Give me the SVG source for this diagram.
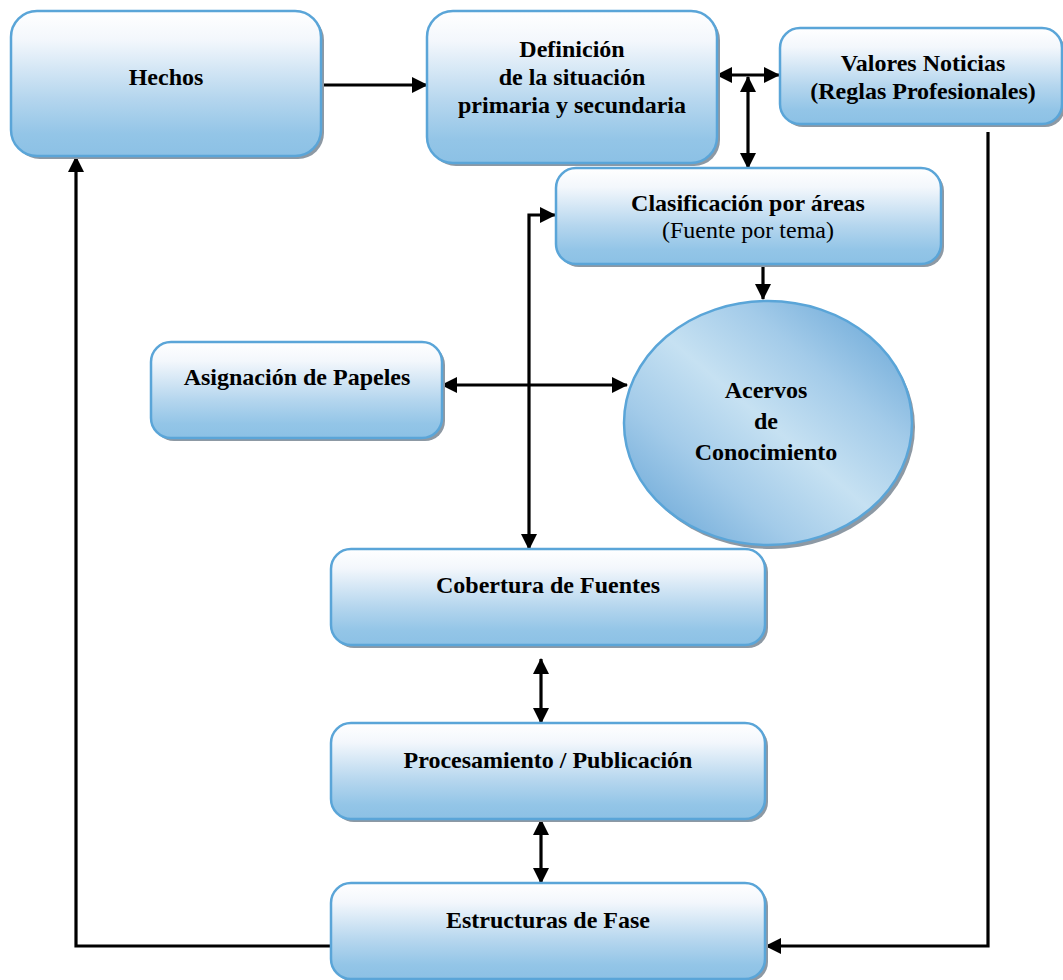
<svg xmlns="http://www.w3.org/2000/svg" width="1063" height="980" viewBox="0 0 1063 980">
  <style>
    .box { fill: url(#boxGrad); stroke: #5aa5d8; stroke-width: 2.5; }
    .shadow { fill: #8d99a4; }
    .t { font-family: "Liberation Serif", "Times New Roman", serif; font-size: 24px; font-weight: bold; fill: #000; text-anchor: middle; }
    .r { font-weight: normal; }
    .conn { fill: none; stroke: #000; stroke-width: 3.2; }
  </style>
  <defs>
    <linearGradient id="boxGrad" x1="0" y1="0" x2="0" y2="1">
      <stop offset="0" stop-color="#ffffff"/>
      <stop offset="0.2" stop-color="#f3f7fc"/>
      <stop offset="0.6" stop-color="#b5d6ee"/>
      <stop offset="0.85" stop-color="#93c5e7"/>
      <stop offset="1" stop-color="#8cc1e5"/>
    </linearGradient>
    <linearGradient id="ellGrad" x1="1" y1="0" x2="0" y2="1">
      <stop offset="0" stop-color="#5d9fd3"/>
      <stop offset="0.3" stop-color="#a3cbe9"/>
      <stop offset="0.5" stop-color="#c6e1f2"/>
      <stop offset="0.7" stop-color="#a3cbe9"/>
      <stop offset="1" stop-color="#5d9fd3"/>
    </linearGradient>
    <marker id="ah" markerUnits="userSpaceOnUse" markerWidth="16" markerHeight="16" refX="15" refY="8" orient="auto-start-reverse" viewBox="0 0 16 16">
      <path d="M0,0 L16,8 L0,16 z" fill="#000"/>
    </marker>
  </defs>

  <g id="connectors">
    <path class="conn" d="M321,85 H427" marker-end="url(#ah)"/>
    <path class="conn" d="M717,75 H779" marker-start="url(#ah)" marker-end="url(#ah)"/>
    <path class="conn" d="M748,77 V168" marker-start="url(#ah)" marker-end="url(#ah)"/>
    <path class="conn" d="M763,265 V299" marker-end="url(#ah)"/>
    <path class="conn" d="M988,132 V946 H766" marker-end="url(#ah)"/>
    <path class="conn" d="M331,946 H76 V157" marker-end="url(#ah)"/>
    <path class="conn" d="M442,385 H627" marker-start="url(#ah)" marker-end="url(#ah)"/>
    <path class="conn" d="M529,549 V215 H555" marker-start="url(#ah)" marker-end="url(#ah)"/>
    <path class="conn" d="M541,659 V723" marker-start="url(#ah)" marker-end="url(#ah)"/>
    <path class="conn" d="M541,820 V883" marker-start="url(#ah)" marker-end="url(#ah)"/>
  </g>

  <g id="hechos">
    <rect class="shadow" x="14" y="14" width="310" height="145" rx="26"/>
    <rect class="box" x="11" y="11" width="310" height="145" rx="26"/>
    <text class="t" x="166" y="85">Hechos</text>
  </g>

  <g id="definicion">
    <rect class="shadow" x="430" y="14" width="290" height="152" rx="26"/>
    <rect class="box" x="427" y="11" width="290" height="152" rx="26"/>
    <text class="t" x="572" y="57">Definición</text>
    <text class="t" x="572" y="85">de la situación</text>
    <text class="t" x="572" y="113">primaria y secundaria</text>
  </g>

  <g id="valores">
    <rect class="shadow" x="783" y="31" width="282" height="96" rx="20"/>
    <rect class="box" x="780" y="28" width="282" height="96" rx="20"/>
    <text class="t" x="923" y="71">Valores Noticias</text>
    <text class="t" x="923" y="99">(Reglas Profesionales)</text>
  </g>

  <g id="clasificacion">
    <rect class="shadow" x="559" y="171" width="385" height="96" rx="20"/>
    <rect class="box" x="556" y="168" width="385" height="96" rx="20"/>
    <text class="t" x="748" y="211">Clasificación por áreas</text>
    <text class="t r" x="748" y="238">(Fuente por tema)</text>
  </g>

  <g id="asignacion">
    <rect class="shadow" x="154" y="345" width="291" height="96" rx="20"/>
    <rect class="box" x="151" y="342" width="291" height="96" rx="20"/>
    <text class="t" x="297" y="385">Asignación de Papeles</text>
  </g>

  <g id="acervos">
    <ellipse cx="771" cy="427" rx="144" ry="122" fill="#8d99a4"/>
    <ellipse cx="768" cy="423" rx="144" ry="122" fill="url(#ellGrad)" stroke="#5aa5d8" stroke-width="2.5"/>
    <text class="t" x="766" y="398">Acervos</text>
    <text class="t" x="766" y="429">de</text>
    <text class="t" x="766" y="460">Conocimiento</text>
  </g>

  <g id="cobertura">
    <rect class="shadow" x="334" y="552" width="434" height="96" rx="20"/>
    <rect class="box" x="331" y="549" width="434" height="96" rx="20"/>
    <text class="t" x="548" y="593">Cobertura de Fuentes</text>
  </g>

  <g id="procesamiento">
    <rect class="shadow" x="334" y="726" width="434" height="96" rx="20"/>
    <rect class="box" x="331" y="723" width="434" height="96" rx="20"/>
    <text class="t" x="548" y="768">Procesamiento / Publicación</text>
  </g>

  <g id="estructuras">
    <rect class="shadow" x="334" y="886" width="434" height="96" rx="20"/>
    <rect class="box" x="331" y="883" width="434" height="96" rx="20"/>
    <text class="t" x="548" y="928">Estructuras de Fase</text>
  </g>
</svg>
